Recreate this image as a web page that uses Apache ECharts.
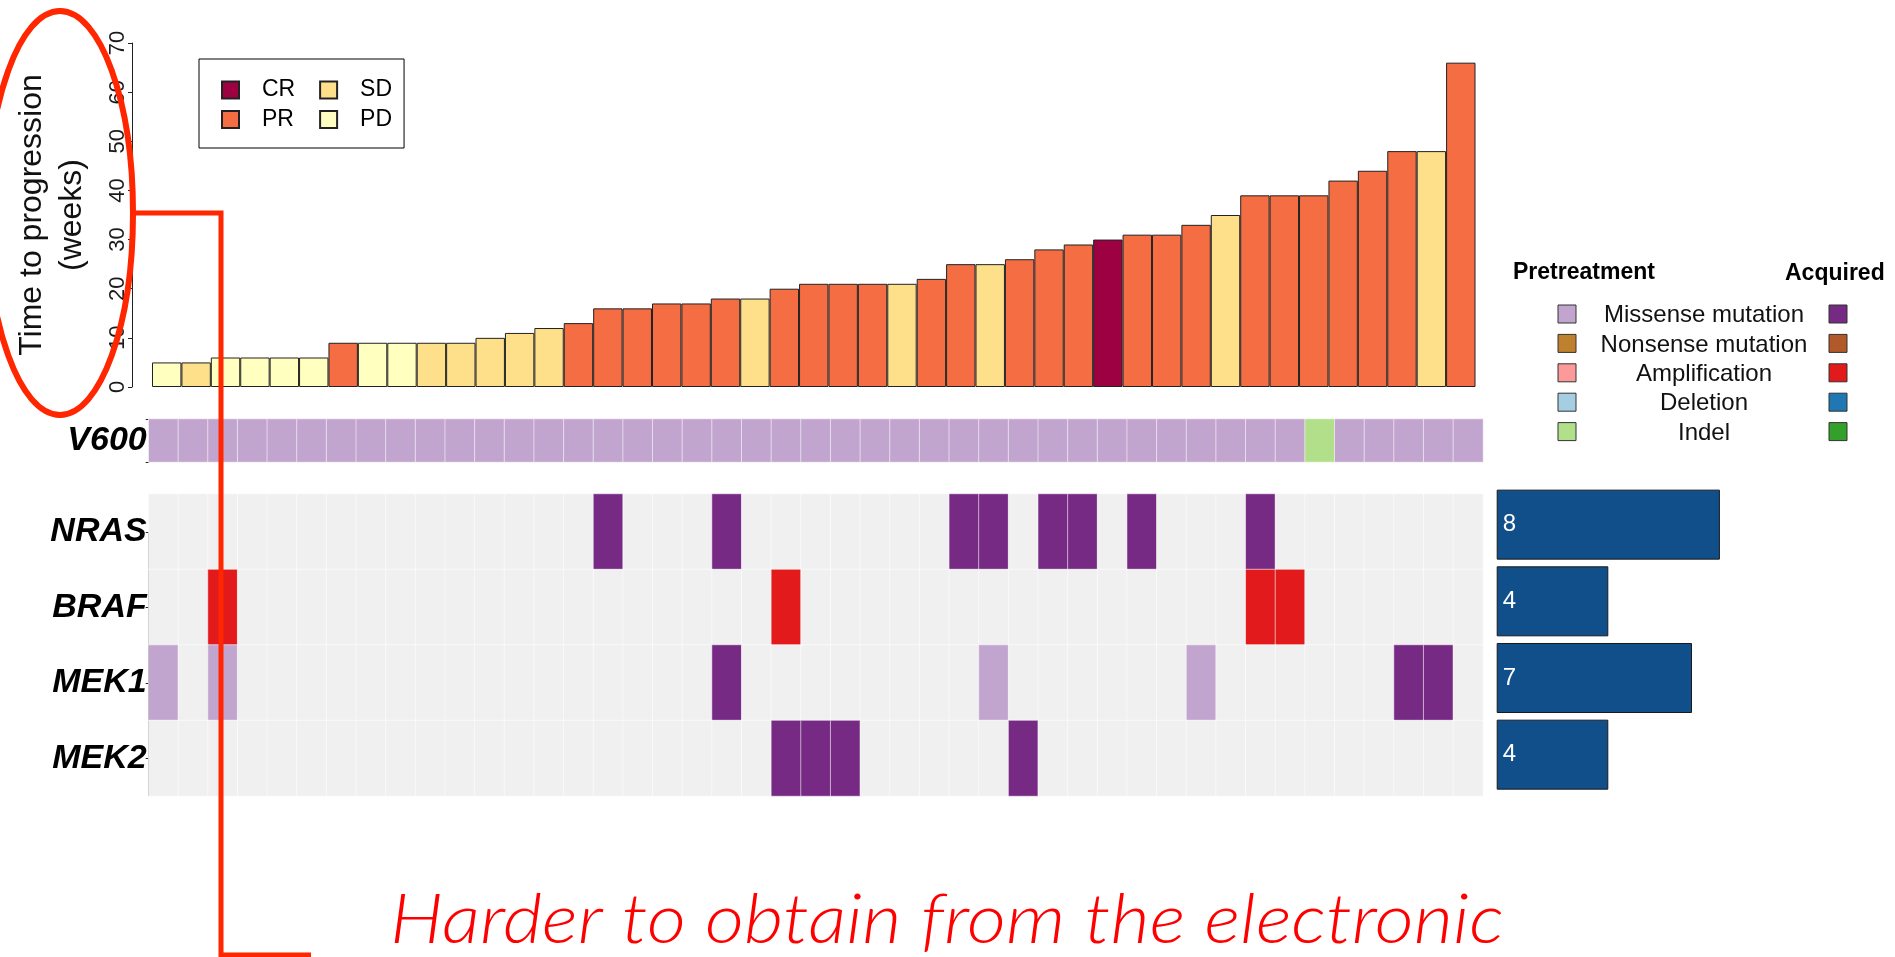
<!DOCTYPE html>
<html>
<head>
<meta charset="utf-8">
<script src="https://cdn.jsdelivr.net/npm/echarts@6/dist/echarts.min.js"></script>
<style>
html, body { margin: 0; padding: 0; background: #fff; }
#chart { width: 1895px; height: 957px; }
</style>
</head>
<body>
<div id="chart"></div>
<script>
var myChart = echarts.init(document.getElementById('chart'));

// patients, sorted by time to progression
var patients = [];
for (var p = 1; p <= 45; p++) patients.push('P' + p);

// time to progression (weeks)
var ttp = [5, 5, 6, 6, 6, 6, 9, 9, 9, 9, 9, 10, 11, 12, 13, 16, 16, 17, 17, 18, 18, 20, 21, 21, 21, 21, 22, 25, 25, 26, 28, 29, 30, 31, 31, 33, 35, 39, 39, 39, 42, 44, 48, 48, 66];
var response = ['PD', 'SD', 'PD', 'PD', 'PD', 'PD', 'PR', 'PD', 'PD', 'SD', 'SD', 'SD', 'SD', 'SD', 'PR', 'PR', 'PR', 'PR', 'PR', 'PR', 'SD', 'PR', 'PR', 'PR', 'PR', 'SD', 'PR', 'PR', 'SD', 'PR', 'PR', 'PR', 'CR', 'PR', 'PR', 'PR', 'SD', 'PR', 'PR', 'PR', 'PR', 'PR', 'PR', 'SD', 'PR'];
var responseTypes = ['CR', 'PR', 'SD', 'PD'];
var responseColors = { CR: '#9e0142', PR: '#f46d43', SD: '#fee08b', PD: '#ffffbf' };

// mutation codes: 0 none, 1-5 pretreatment, 6-10 acquired
var mutationTypes = ['Missense mutation', 'Nonsense mutation', 'Amplification', 'Deletion', 'Indel'];
var preColors = ['#c2a5cf', '#bf812d', '#fb9a99', '#a6cee3', '#b2df8a'];
var acqColors = ['#762a83', '#b15928', '#e31a1c', '#1f78b4', '#33a02c'];

// V600 status per patient (1 = pretreatment missense, 5 = pretreatment indel)
var v600 = [1, 1, 1, 1, 1, 1, 1, 1, 1, 1, 1, 1, 1, 1, 1, 1, 1, 1, 1, 1, 1, 1, 1, 1, 1, 1, 1, 1, 1, 1, 1, 1, 1, 1, 1, 1, 1, 1, 1, 5, 1, 1, 1, 1, 1];

// other genes: [patient index, code]
var genes = ['NRAS', 'BRAF', 'MEK1', 'MEK2'];
var nras = [[15, 6], [19, 6], [27, 6], [28, 6], [30, 6], [31, 6], [33, 6], [37, 6]];
var braf = [[2, 8], [21, 8], [37, 8], [38, 8]];
var mek1 = [[0, 1], [2, 1], [19, 6], [28, 1], [35, 1], [42, 6], [43, 6]];
var mek2 = [[21, 6], [22, 6], [23, 6], [29, 6]];
var geneCounts = [8, 4, 7, 4];

var FONT = 'Liberation Sans';

// build heatmap data
var v600Data = v600.map(function (c, i) { return [i, 0, c]; });
var geneData = [];
[nras, braf, mek1, mek2].forEach(function (list, g) {
	var row = patients.map(function () { return 0; });
	list.forEach(function (m) { row[m[0]] = m[1]; });
	row.forEach(function (c, i) { geneData.push([i, g, c]); });
});

var pieces = [{ value: 0, color: '#f0f0f0' }];
preColors.forEach(function (c, i) { pieces.push({ value: i + 1, color: c }); });
acqColors.forEach(function (c, i) { pieces.push({ value: i + 6, color: c }); });

// response bars, one series per response so the legend works
var series = [];
responseTypes.forEach(function (r) {
	series.push({
		name: r,
		type: 'bar',
		stack: 'ttp',
		xAxisIndex: 0,
		yAxisIndex: 0,
		barWidth: '100%',
		itemStyle: { color: responseColors[r], borderColor: '#222', borderWidth: 1 },
		emphasis: { disabled: true },
		data: ttp.map(function (v, i) { return response[i] === r ? v : '-'; })
	});
});
series.push({
	type: 'heatmap', xAxisIndex: 1, yAxisIndex: 1, data: v600Data,
	itemStyle: { borderColor: 'rgba(255,255,255,0.55)', borderWidth: 1 },
	emphasis: { disabled: true }
});
series.push({
	type: 'heatmap', xAxisIndex: 2, yAxisIndex: 2, data: geneData,
	itemStyle: { borderColor: 'rgba(255,255,255,0.55)', borderWidth: 1 },
	emphasis: { disabled: true }
});
series.push({
	type: 'bar', xAxisIndex: 3, yAxisIndex: 3, data: geneCounts,
	barWidth: 70,
	itemStyle: { color: '#114f8a', borderColor: '#1a1a1a', borderWidth: 1 },
	label: { show: true, position: 'insideLeft', distance: 6, color: '#fff', fontSize: 24, fontFamily: FONT },
	emphasis: { disabled: true }
});

// mutation legend on the right
var legendItems = [
	{ type: 'text', style: { x: 1513, y: 273, text: 'Pretreatment', fontSize: 23, fontWeight: 'bold', fontFamily: FONT, fill: '#000', verticalAlign: 'middle' } },
	{ type: 'text', style: { x: 1785, y: 274, text: 'Acquired', fontSize: 23, fontWeight: 'bold', fontFamily: FONT, fill: '#000', verticalAlign: 'middle' } }
];
mutationTypes.forEach(function (t, i) {
	var y = 305 + 29.4 * i;
	legendItems.push({ type: 'rect', shape: { x: 1558, y: y, width: 18, height: 18 }, style: { fill: preColors[i], stroke: '#333', lineWidth: 1 } });
	legendItems.push({ type: 'rect', shape: { x: 1829, y: y, width: 18, height: 18 }, style: { fill: acqColors[i], stroke: '#333', lineWidth: 1 } });
	legendItems.push({ type: 'text', style: { x: 1704, y: y + 10.5, text: t, fontSize: 24, fontFamily: FONT, fill: '#111', align: 'center', verticalAlign: 'middle' } });
});

var geneLabel = { fontSize: 34, fontWeight: 'bold', fontStyle: 'italic', color: '#000', fontFamily: FONT, margin: 2 };

myChart.setOption(option = {
	animation: false,
	grid: [
		{ left: 152, width: 1323.5, top: 43, height: 344 },
		{ left: 148.7, width: 1334.3, top: 419, height: 43 },
		{ left: 148.7, width: 1334.3, top: 494, height: 302 },
		{ left: 1496.7, width: 279, top: 486.3, height: 306.7 }
	],
	legend: {
		data: responseTypes,
		orient: 'vertical',
		left: 199,
		top: 59,
		height: 60,
		padding: [19.5, 12, 17, 22],
		itemGap: 6.5,
		itemWidth: 17,
		itemHeight: 17,
		icon: 'rect',
		borderColor: '#000',
		borderWidth: 1,
		selectedMode: false,
		// widen the first column so the second one starts where it does in the original
		formatter: function (name) {
			return (name === 'CR' || name === 'PR') ? name + '\u00a0\u00a0\u2009' : name;
		},
		textStyle: { fontSize: 23, fontFamily: FONT, color: '#000', padding: [0, 0, 0, 18] }
	},
	xAxis: [
		{ gridIndex: 0, type: 'category', data: patients, show: false },
		{ gridIndex: 1, type: 'category', data: patients, show: false },
		{ gridIndex: 2, type: 'category', data: patients, show: false },
		{ gridIndex: 3, type: 'value', min: 0, max: 10, show: false }
	],
	yAxis: [
		{
			gridIndex: 0, type: 'value', min: 0, max: 70, interval: 10, offset: 20,
			axisLine: { show: true, lineStyle: { color: '#222', width: 1 } },
			axisTick: { show: true, length: 4, lineStyle: { color: '#222' } },
			axisLabel: { rotate: 90, margin: 3, fontSize: 22, color: '#1a1a1a', fontFamily: FONT },
			splitLine: { show: false },
			name: 'Time to progression\n(weeks)',
			nameLocation: 'middle',
			nameGap: 40,
			nameRotate: 90,
			nameTextStyle: { fontSize: 32, lineHeight: 40, color: '#111', fontFamily: FONT }
		},
		{
			gridIndex: 1, type: 'category', data: ['V600'],
			axisLine: { show: false },
			axisTick: { show: true, length: 3, lineStyle: { color: '#222' } },
			axisLabel: geneLabel
		},
		{
			gridIndex: 2, type: 'category', data: genes, inverse: true,
			axisLine: { show: false },
			axisTick: { show: true, length: 3, alignWithLabel: true, lineStyle: { color: '#222' } },
			axisLabel: geneLabel
		},
		{ gridIndex: 3, type: 'category', data: genes, inverse: true, show: false }
	],
	visualMap: {
		type: 'piecewise', show: false, dimension: 2, seriesIndex: [4, 5], pieces: pieces
	},
	graphic: [
		{ type: 'group', children: legendItems },
		// axis line of the gene rows
		{ type: 'line', shape: { x1: 148.7, y1: 532, x2: 148.7, y2: 796 }, style: { stroke: '#222', lineWidth: 1 } },
		// red annotation
		{ type: 'ellipse', z: 100, shape: { cx: 60, cy: 213, rx: 73, ry: 202 }, style: { fill: 'none', stroke: '#ff2600', lineWidth: 6 } },
		{ type: 'polyline', z: 100, shape: { points: [[132, 213], [221, 213], [221, 955], [311, 955]] }, style: { fill: 'none', stroke: '#ff2600', lineWidth: 5 } },
		{ type: 'text', z: 100, x: 390, y: 920, scaleX: 1.086, style: { x: 0, y: 0, text: 'Harder to obtain from the electronic', fontSize: 70, fontStyle: 'italic', fontWeight: 300, fontFamily: 'Lato', fill: '#ff0000', verticalAlign: 'middle' } }
	],
	series: series
});

window.addEventListener('resize', function () {
	myChart.resize();
});
</script>
</body>
</html>
